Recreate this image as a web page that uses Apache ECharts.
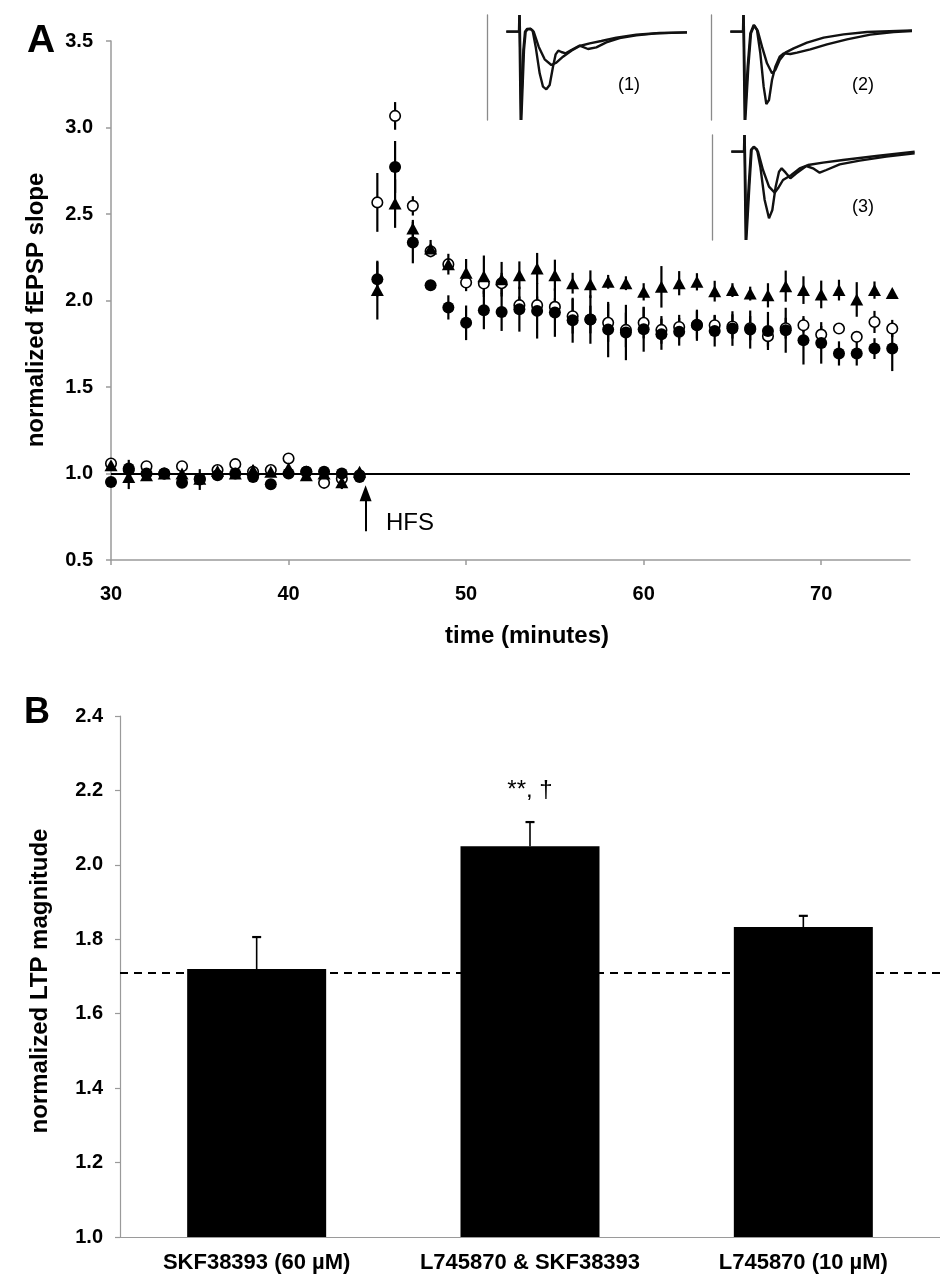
<!DOCTYPE html>
<html>
<head>
<meta charset="utf-8">
<script src="https://cdn.jsdelivr.net/npm/echarts@6/dist/echarts.min.js"></script>
<style>
html,body{margin:0;padding:0;background:#fff;}
#chart{width:940px;height:1283px;}
</style>
</head>
<body>
<div id="chart"></div>
<script>
// ---------- Panel A data (time course) ----------
const times = [30,31,32,33,34,35,36,37,38,39,40,41,42,43,44,45,46,47,48,49,50,51,52,53,54,55,56,57,58,59,60,61,62,63,64,65,66,67,68,69,70,71,72,73,74];
const openMean = [1.058,1.02,1.042,1.00,1.042,0.97,1.02,1.054,1.01,1.02,1.087,1.01,0.946,0.97,0.99,
  2.567,3.067,2.547,2.285,2.21,2.104,2.098,2.10,1.973,1.973,1.963,1.909,1.89,1.871,1.83,1.871,1.83,1.847,1.86,1.857,1.85,1.84,1.794,1.84,1.857,1.803,1.838,1.79,1.876,1.838];
const openErr = [0.02,0.02,0.02,0.02,0.02,0.03,0.02,0.02,0.03,0.02,0.02,0.02,0.02,0.02,0.02,
  0.17,0.08,0.056,0.03,0.03,0.05,0.06,0.06,0.05,0.05,0.05,0.1,0.08,0.11,0.1,0.09,0.08,0.07,0.08,0.06,0.07,0.07,0.06,0.06,0.04,0.05,0.03,0.03,0.064,0.05];
const filledMean = [0.951,1.029,1.00,1.00,0.946,0.965,0.99,1.00,0.98,0.938,1.00,1.01,1.01,1.00,0.98,
  2.123,2.772,2.335,2.088,1.96,1.871,1.944,1.934,1.95,1.94,1.93,1.886,1.89,1.832,1.815,1.834,1.805,1.819,1.857,1.824,1.838,1.832,1.824,1.828,1.77,1.755,1.694,1.694,1.722,1.722];
const filledErr = [0.02,0.05,0.02,0.02,0.02,0.06,0.02,0.02,0.03,0.02,0.02,0.02,0.02,0.02,0.02,
  0.1,0.15,0.12,0.03,0.07,0.1,0.11,0.11,0.13,0.16,0.14,0.13,0.14,0.16,0.16,0.13,0.09,0.08,0.09,0.09,0.1,0.11,0.11,0.13,0.14,0.12,0.07,0.07,0.06,0.13];
const triMean = [1.048,0.98,0.99,1.00,1.00,0.97,1.015,1.00,1.02,1.01,1.03,0.99,1.00,0.95,1.01,
  2.06,2.56,2.416,2.30,2.21,2.16,2.14,2.123,2.146,2.185,2.146,2.10,2.094,2.108,2.10,2.05,2.079,2.10,2.108,2.054,2.06,2.04,2.03,2.083,2.06,2.035,2.06,2.006,2.06,2.044];
const triErr = [0.02,0.07,0.02,0.02,0.02,0.02,0.03,0.02,0.03,0.02,0.02,0.02,0.02,0.04,0.02,
  0.17,0.14,0.05,0.05,0.06,0.08,0.12,0.1,0.08,0.09,0.09,0.06,0.08,0.04,0.04,0.05,0.12,0.07,0.05,0.06,0.04,0.04,0.07,0.09,0.08,0.08,0.06,0.1,0.05,0.02];
const xTicksA = [30,40,50,60,70];
const baselineLevel = 1.0;
const hfsTime = 44.34;
const hfsArrowFrom = 0.666;
const hfsArrowTo = 0.886;

// ---------- Inset traces ([time, amplitude], arbitrary units) ----------
const trace1a = [[5.8,0],[9.6,0],[9.7,5],[9.9,5],[10.1,-26.5],[10.4,-26.5],[10.9,-5.5],[11.4,0],[12.0,0.8],[13.0,0.9],[13.7,0.3],[14.6,-4.5],[15.8,-12.5],[16.8,-16.5],[17.8,-17.3],[18.8,-16.0],[19.8,-10.5],[20.6,-6.8],[21.4,-5.7],[22.3,-6.1],[23.6,-6.5],[25.3,-5.5],[27.8,-4.2],[30.3,-5.2],[32.8,-4.7],[35.8,-3.2],[39.8,-1.9],[44.8,-1.1],[50.8,-0.5],[60.0,-0.2]];
const trace1b = [[5.8,0],[9.7,0],[9.8,5],[10.0,5],[10.3,-26.5],[10.6,-26.5],[11.1,-5.5],[11.6,0],[12.2,0.7],[13.1,0.8],[14.0,0],[15.5,-4.5],[17.3,-8.3],[19.3,-10.0],[20.8,-9.3],[22.8,-7.5],[25.3,-5.7],[27.8,-4.3],[30.8,-3.5],[34.3,-2.8],[38.8,-1.8],[44.8,-0.9],[51.8,-0.4],[60.0,-0.2]];
const trace2a = [[5.8,0],[9.6,0],[9.7,5],[9.9,5],[10.1,-26.5],[10.4,-26.5],[11.0,-10.5],[11.8,-0.5],[12.8,2.0],[13.8,0.5],[14.8,-6.5],[15.8,-16.5],[16.6,-21.7],[17.4,-20.5],[18.3,-14.5],[19.3,-10.5],[20.6,-7.5],[21.8,-6.5],[23.8,-6.7],[25.8,-6.3],[29.8,-5.3],[34.8,-3.8],[40.8,-2.3],[47.8,-0.9],[54.8,-0.1],[60.3,0.2]];
const trace2b = [[5.8,0],[9.7,0],[9.8,5],[10.0,5],[10.3,-26.5],[10.6,-26.5],[11.2,-10.5],[12.0,-0.5],[13.0,1.9],[14.0,0.3],[15.3,-4.5],[16.8,-9.5],[18.3,-12.5],[19.3,-11.5],[20.6,-8.5],[22.3,-6.3],[24.8,-5.0],[28.8,-3.3],[33.8,-1.8],[39.8,-0.8],[46.8,-0.1],[60.3,0.4]];
const trace3a = [[5.8,0],[9.6,0],[9.7,5],[9.9,5],[10.1,-26.5],[10.4,-26.5],[11.0,-10.5],[11.7,0.5],[12.5,1.5],[13.5,0.7],[14.5,-4.5],[15.8,-14.5],[17.1,-20.0],[18.1,-17.5],[19.1,-10.5],[20.1,-6.0],[20.9,-5.0],[22.1,-6.3],[23.5,-8.0],[25.3,-6.5],[28.3,-4.3],[30.3,-5.0],[32.3,-6.3],[34.3,-5.5],[38.3,-3.8],[44.3,-2.7],[52.3,-1.5],[60.8,-0.5]];
const trace3b = [[5.8,0],[9.7,0],[9.8,5],[10.0,5],[10.3,-26.5],[10.6,-26.5],[11.2,-10.5],[11.9,0.7],[12.7,1.3],[13.8,0],[15.3,-5.5],[17.1,-10.5],[18.8,-12.3],[19.8,-11.0],[21.3,-8.5],[23.8,-7.0],[26.3,-5.0],[28.8,-4.0],[33.3,-3.3],[39.3,-2.5],[49.3,-1.3],[60.8,0.0]];
const insetLabels = ['(1)', '(2)', '(3)'];

// ---------- Panel B data ----------
const groups = ['SKF38393 (60 µM)', 'L745870 & SKF38393', 'L745870 (10 µM)'];
const ltpMean = [1.72, 2.05, 1.833];
const ltpErr = [0.086, 0.065, 0.03];
const ltpAnnot = ['', '**, \u2020', ''];
const controlLevel = 1.705;

// ---------- build ----------
const FONT = '"Liberation Sans", Arial, Helvetica, sans-serif';
const AXIS_GRAY = '#9a9a9a';
const chart = echarts.init(document.getElementById('chart'), null, {renderer: 'canvas'});

function zip3(m, e) { return times.map((t, i) => [t, m[i], e[i]]); }

function errRender(params, api) {
  const x = api.value(0), v = api.value(1), e = api.value(2);
  const p1 = api.coord([x, v - e]);
  const p2 = api.coord([x, v + e]);
  return {type: 'line', shape: {x1: p1[0], y1: p1[1], x2: p2[0], y2: p2[1]}, style: {stroke: '#000', lineWidth: 2.2}};
}

function barErrRender(params, api) {
  const i = api.value(0), v = api.value(1), e = api.value(2);
  const p1 = api.coord([i, v]);
  const p2 = api.coord([i, v + e]);
  const children = [
    {type: 'line', shape: {x1: p1[0], y1: p1[1], x2: p2[0], y2: p2[1]}, style: {stroke: '#000', lineWidth: 1.6}},
    {type: 'line', shape: {x1: p2[0] - 4.5, y1: p2[1], x2: p2[0] + 4.5, y2: p2[1]}, style: {stroke: '#000', lineWidth: 2.2}}
  ];
  const txt = ltpAnnot[params.dataIndex];
  if (txt) {
    children.push({type: 'text', x: p2[0], y: p2[1] - 32, style: {text: txt, font: '24px ' + FONT, fill: '#000', align: 'center', verticalAlign: 'middle'}});
  }
  return {type: 'group', children: children};
}

const insetGrids = [
  {left: 487, top: 15, width: 204, height: 105},
  {left: 711, top: 15, width: 204, height: 105},
  {left: 712, top: 135, width: 204, height: 105}
];
const insetTraces = [[trace1a, trace1b], [trace2a, trace2b], [trace3a, trace3b]];

const grids = [
  {left: 111, top: 41, width: 799, height: 519},
  ...insetGrids,
  {left: 120, top: 716, width: 822, height: 521}
];

const xAxes = [
  {type: 'value', gridIndex: 0, min: 30, max: 75, interval: 10,
   axisLine: {show: true, onZero: false, lineStyle: {color: AXIS_GRAY, width: 1.5}},
   axisTick: {show: true, inside: false, length: 5, lineStyle: {color: AXIS_GRAY, width: 1.5}, customValues: xTicksA},
   axisLabel: {fontFamily: FONT, fontWeight: 'bold', fontSize: 20, color: '#000', margin: 24, customValues: xTicksA},
   splitLine: {show: false}}
];
const yAxes = [
  {type: 'value', gridIndex: 0, min: 0.5, max: 3.5, interval: 0.5,
   axisLine: {show: true, lineStyle: {color: AXIS_GRAY, width: 1.5}},
   axisTick: {show: true, inside: false, length: 5, lineStyle: {color: AXIS_GRAY, width: 1.5}},
   axisLabel: {fontFamily: FONT, fontWeight: 'bold', fontSize: 20, color: '#000', margin: 18, formatter: v => v.toFixed(1)},
   splitLine: {show: false}}
];
insetGrids.forEach((g, k) => {
  xAxes.push({type: 'value', gridIndex: k + 1, min: 0, max: 61.2, show: false});
  yAxes.push({type: 'value', gridIndex: k + 1, min: -26.5, max: 5,
    axisLine: {show: true, lineStyle: {color: '#8a8a8a', width: 1.3}},
    axisTick: {show: false}, axisLabel: {show: false}, splitLine: {show: false}});
});
xAxes.push({type: 'category', gridIndex: 4, data: groups,
  axisLine: {show: true, lineStyle: {color: AXIS_GRAY, width: 1.2}},
  axisTick: {show: false},
  axisLabel: {fontFamily: FONT, fontWeight: 'bold', fontSize: 22, color: '#000', margin: 15, interval: 0}});
yAxes.push({type: 'value', gridIndex: 4, min: 1, max: 2.4, interval: 0.2,
  axisLine: {show: true, lineStyle: {color: AXIS_GRAY, width: 1.2}},
  axisTick: {show: true, inside: false, length: 5, lineStyle: {color: AXIS_GRAY, width: 1.2}},
  axisLabel: {fontFamily: FONT, fontWeight: 'bold', fontSize: 20, color: '#000', margin: 17, formatter: v => v.toFixed(1)},
  splitLine: {show: false}});

const series = [
  {type: 'custom', name: 'errOpen', xAxisIndex: 0, yAxisIndex: 0, data: zip3(openMean, openErr), renderItem: errRender, z: 2,
   markLine: {silent: true, animation: false, symbol: 'none', label: {show: false},
     data: [
       {yAxis: baselineLevel, lineStyle: {color: '#000', width: 2, type: 'solid'}},
       [{coord: [hfsTime, hfsArrowFrom], symbol: 'none'}, {coord: [hfsTime, hfsArrowTo], symbol: 'triangle', symbolSize: [12, 16]}]
     ],
     lineStyle: {color: '#000', width: 2, type: 'solid'}}},
  {type: 'custom', name: 'errTri', xAxisIndex: 0, yAxisIndex: 0, data: zip3(triMean, triErr), renderItem: errRender, z: 2},
  {type: 'custom', name: 'errFilled', xAxisIndex: 0, yAxisIndex: 0, data: zip3(filledMean, filledErr), renderItem: errRender, z: 2},
  {type: 'scatter', name: 'open', xAxisIndex: 0, yAxisIndex: 0, z: 3,
   data: times.map((t, i) => [t, openMean[i]]), symbol: 'circle', symbolSize: 10.5,
   itemStyle: {color: '#fff', borderColor: '#000', borderWidth: 1.6, opacity: 1}},
  {type: 'scatter', name: 'tri', xAxisIndex: 0, yAxisIndex: 0, z: 4,
   data: times.map((t, i) => [t, triMean[i]]), symbol: 'triangle', symbolSize: [13, 12],
   itemStyle: {color: '#000', opacity: 1}},
  {type: 'scatter', name: 'filled', xAxisIndex: 0, yAxisIndex: 0, z: 5,
   data: times.map((t, i) => [t, filledMean[i]]), symbol: 'circle', symbolSize: 12,
   itemStyle: {color: '#000', opacity: 1}}
];
insetTraces.forEach((pair, k) => {
  pair.forEach(tr => {
    series.push({type: 'line', xAxisIndex: k + 1, yAxisIndex: k + 1, data: tr, showSymbol: false, symbol: 'none',
      lineStyle: {color: '#111', width: 2.4}, silent: true, clip: true});
  });
});
series.push({type: 'bar', xAxisIndex: 4, yAxisIndex: 4, data: ltpMean, barWidth: 139,
  itemStyle: {color: '#000'}, z: 2,
  markLine: {silent: true, animation: false, symbol: 'none', label: {show: false},
    data: [{yAxis: controlLevel}], lineStyle: {color: '#000', width: 2, type: [8, 6]}}});
series.push({type: 'custom', xAxisIndex: 4, yAxisIndex: 4, z: 3,
  data: groups.map((g, i) => [i, ltpMean[i], ltpErr[i]]), renderItem: barErrRender});

const T = (text, x, y, font, extra) => Object.assign({type: 'text', x: x, y: y, silent: true,
  style: {text: text, font: font, fill: '#000', align: 'center', verticalAlign: 'middle'}}, extra || {});

const graphic = [
  T('A', 41, 41, 'bold 39px ' + FONT),
  T('B', 37, 713, 'bold 36px ' + FONT),
  T('normalized fEPSP slope', 36, 310, 'bold 24px ' + FONT, {rotation: Math.PI / 2}),
  T('time (minutes)', 527, 636, 'bold 24px ' + FONT),
  T('normalized LTP magnitude', 40, 981, 'bold 24px ' + FONT, {rotation: Math.PI / 2}),
  T('HFS', 410, 523, '24px ' + FONT),
  T(insetLabels[0], 629, 85, '18px ' + FONT),
  T(insetLabels[1], 863, 85, '18px ' + FONT),
  T(insetLabels[2], 863, 207, '18px ' + FONT)
];

chart.setOption({
  animation: false,
  backgroundColor: '#fff',
  grid: grids,
  xAxis: xAxes,
  yAxis: yAxes,
  series: series,
  graphic: graphic
});
</script>
</body>
</html>
